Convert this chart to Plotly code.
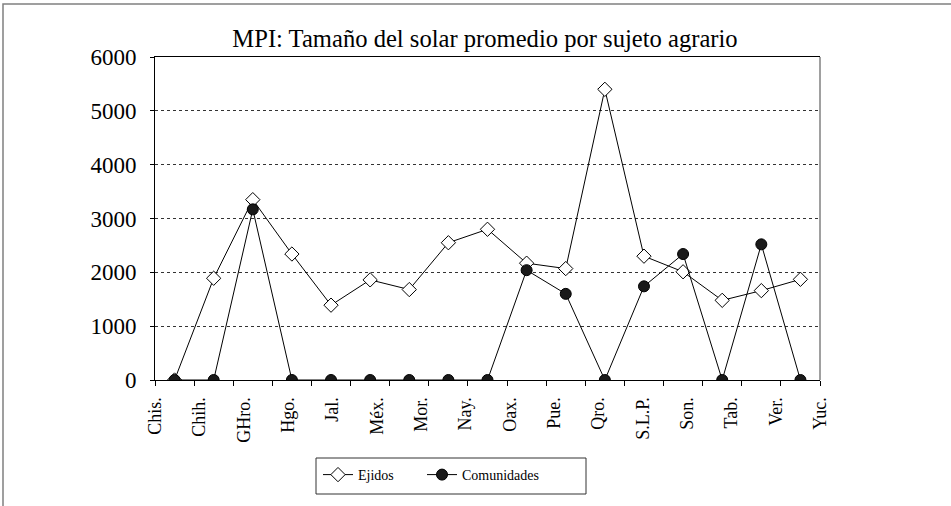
import plotly.graph_objects as go

# Data
tick_labels = ["Chis.", "Chih.", "GHro.", "Hgo.", "Jal.", "Méx.", "Mor.", "Nay.",
               "Oax.", "Pue.", "Qro.", "S.L.P.", "Son.", "Tab.", "Ver.", "Yuc."]
point_index = list(range(17))
ejidos = [0, 1890, 3350, 2340, 1390, 1860, 1680, 2550, 2800, 2170, 2070,
          5400, 2300, 2010, 1480, 1660, 1870]
comunidades = [0, 0, 3170, 0, 0, 0, 0, 0, 0, 2040, 1600, 0, 1740, 2340, 0,
               2520, 0]

FONT = "Liberation Serif"
n_pts = len(point_index)
xmin, xmax = -0.5, n_pts - 0.5
label_pos = [xmin + k * (xmax - xmin) / (len(tick_labels) - 1)
             for k in range(len(tick_labels))]

L, R, T, B = 155, 131, 57, 126
PW, PH = 951 - L - R, 506 - T - B


def px_x(px):
    return (px - L) / PW


def px_y(py):
    return (506 - B - py) / PH


fig = go.Figure()
fig.add_trace(go.Scatter(
    x=point_index, y=ejidos, name="Ejidos", mode="lines+markers",
    line=dict(color="black", width=1), legend="legend",
    marker=dict(symbol="diamond", size=11, color="white",
                line=dict(color="black", width=1)),
))
fig.add_trace(go.Scatter(
    x=point_index, y=comunidades, name="Comunidades", mode="lines+markers",
    line=dict(color="black", width=1), legend="legend2",
    marker=dict(symbol="circle", size=11, color="#1a1a1a",
                line=dict(color="black", width=1)),
))
# invisible trace to activate the label axis
fig.add_trace(go.Scatter(x=[xmin], y=[0], xaxis="x2", mode="markers",
                         marker=dict(opacity=0), showlegend=False,
                         hoverinfo="skip"))

legend_common = dict(orientation="h", xanchor="left", yanchor="top",
                     y=px_y(459), borderwidth=0,
                     font=dict(family=FONT, size=14, color="black"),
                     bgcolor="rgba(0,0,0,0)")

fig.update_layout(
    width=951, height=506,
    margin=dict(l=L, r=R, t=T, b=B),
    paper_bgcolor="white", plot_bgcolor="white",
    font=dict(family=FONT, color="black"),
    title=dict(text="MPI: Tamaño del solar promedio por sujeto agrario",
               x=485 / 951, xanchor="center", y=1 - 38 / 506, yanchor="middle",
               font=dict(family=FONT, size=24.6, color="black")),
    xaxis=dict(range=[xmin, xmax], tickmode="linear", tick0=xmin, dtick=1,
               showticklabels=False, ticks="outside", ticklen=5,
               tickcolor="black", showline=True, linecolor="black",
               linewidth=1, mirror=True, showgrid=False, zeroline=False),
    xaxis2=dict(range=[xmin, xmax], overlaying="x", side="bottom",
                anchor="y", tickmode="array", tickvals=label_pos,
                ticktext=tick_labels, tickangle=-90, ticks="outside",
                ticklen=9, tickcolor="rgba(0,0,0,0)",
                tickfont=dict(family=FONT, size=18, color="black"),
                showgrid=False, showline=False, zeroline=False),
    yaxis=dict(range=[0, 6000], tickmode="linear", tick0=0, dtick=1000,
               ticks="outside", ticklen=4, tickcolor="black",
               ticklabelstandoff=9,
               tickfont=dict(family=FONT, size=23, color="black"),
               showline=True, linecolor="black", linewidth=1,
               showgrid=True, gridcolor="#333333", griddash="dot",
               gridwidth=1, zeroline=False),
    legend=dict(x=px_x(318), **legend_common),
    legend2=dict(x=px_x(422), **legend_common),
    showlegend=True,
    shapes=[
        # right plot border (gray)
        dict(type="line", xref="paper", yref="paper", x0=1, x1=1, y0=0, y1=1,
             line=dict(color="#808080", width=1.5)),
        # outer chart frame
        dict(type="rect", xref="paper", yref="paper",
             x0=px_x(3), x1=px_x(1000), y0=px_y(560), y1=px_y(4),
             line=dict(color="#808080", width=1.5), fillcolor="rgba(0,0,0,0)",
             layer="below"),
        # legend box
        dict(type="rect", xref="paper", yref="paper",
             x0=px_x(316), x1=px_x(586), y0=px_y(494), y1=px_y(458),
             line=dict(color="#333333", width=1), fillcolor="rgba(0,0,0,0)"),
    ],
)

fig.write_html(
    "out.html",
    config={"displayModeBar": False},
    post_script="document.body.style.margin='0';document.body.style.padding='0';",
)
